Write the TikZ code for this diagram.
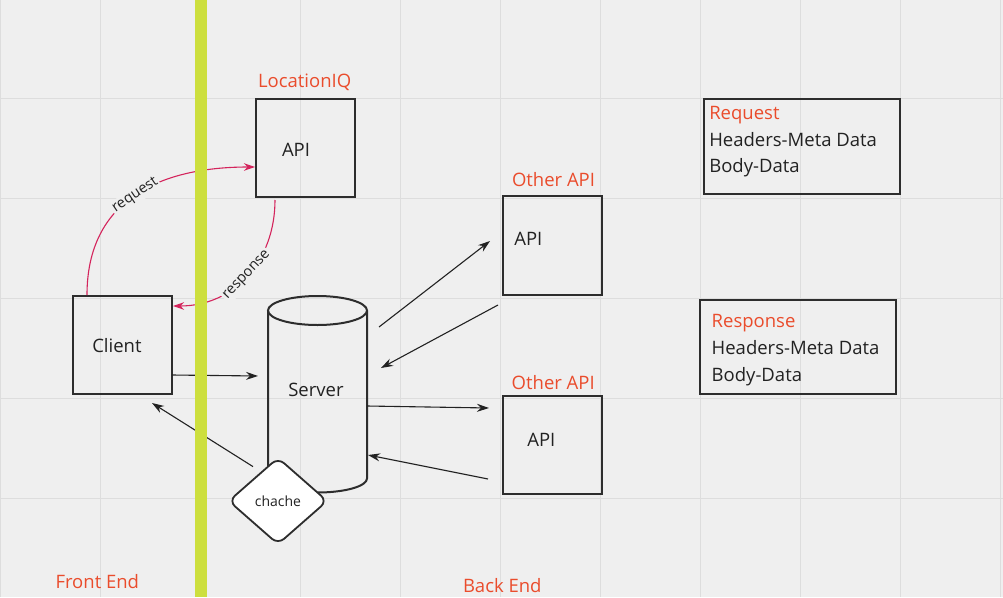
\documentclass[tikz,border=0pt]{standalone}
\usepackage{fontspec}
\setmainfont{Open Sans}
\usetikzlibrary{arrows.meta,shapes.geometric}
\definecolor{bg}{RGB}{239,239,239}
\definecolor{gridc}{RGB}{221,221,221}
\definecolor{lime}{RGB}{205,223,62}
\definecolor{redlab}{RGB}{234,76,44}
\definecolor{crim}{RGB}{212,36,92}
\definecolor{ink}{RGB}{34,34,34}
\definecolor{edge}{RGB}{45,45,45}
\tikzset{
  boxst/.style={draw=edge, line width=2pt, inner sep=0pt, outer sep=0pt},
  ghost/.style={inner sep=0pt, outer sep=0pt},
  txt/.style={inner sep=0pt, outer sep=0pt, anchor=base west, text=ink},
  redtxt/.style={inner sep=0pt, outer sep=0pt, anchor=base west, text=redlab},
  conn/.style={draw=ink, line width=1.1pt, -{Stealth[length=12pt,width=8pt]}},
  redconn/.style={draw=crim, line width=1.1pt, -{Stealth[length=11pt,width=7.5pt]}},
  curvelab/.style={sloped, fill=bg, inner sep=1.5pt, text=ink, font=\fontsize{14.5}{16}\selectfont}
}
\begin{document}
\begin{tikzpicture}[x=1pt, y=-1pt, font=\fontsize{18.5}{22}\selectfont]
\useasboundingbox (0,0) rectangle (1003,597);
\fill[bg] (0,0) rectangle (1003,597);
% grid
\foreach \gx in {0.7,100.5,200.5,300.5,400.5,500.5,600.5,700.5,800.5,900.5,1000.5}
  \draw[gridc, line width=1.2pt] (\gx,0) -- (\gx,597);
\foreach \gy in {98.5,198.5,298.5,398.5,498.5}
  \draw[gridc, line width=1.2pt] (0,\gy) -- (1003,\gy);

% boxes
\node[boxst, minimum width=99pt, minimum height=98pt] (client) at (122.5,345) {};
\node[boxst, minimum width=99pt, minimum height=98pt] (liq) at (305.5,148) {};
\node[boxst, minimum width=99pt, minimum height=99pt] (oapi1) at (552.5,245.5) {};
\node[boxst, minimum width=99pt, minimum height=98pt] (oapi2) at (552.5,445) {};
\node[boxst, minimum width=196pt, minimum height=95pt] (reqbox) at (802,146.5) {};
\node[boxst, minimum width=196pt, minimum height=94pt] (respbox) at (798,347) {};
\node[ghost, minimum width=99pt, minimum height=197pt] (server) at (317.5,394.5) {};

% cylinder
\draw[edge, line width=2pt] ([shift={(0,14.5)}]server.north west) -- ([shift={(0,-14.5)}]server.south west)
  arc[start angle=180, end angle=360, x radius=49.5pt, y radius=14pt]
  -- ([shift={(0,14.5)}]server.north east);
\draw[edge, line width=2pt] ([shift={(0,14.5)}]server.north) ellipse[x radius=49.5pt, y radius=14.5pt];

% texts
\node[redtxt] (liqlab) at (258,87.3) {LocationIQ};
\node[txt] (liqapi) at (282,156) {API};
\node[txt] (clienttxt) at (92.3,352.3) {Client};
\node[txt] (servertxt) at (288.3,396) {Server};
\node[redtxt] (o1lab) at (512,186.7) {Other API};
\node[txt] (o1api) at (514.3,245) {API};
\node[redtxt] (o2lab) at (511.7,389) {Other API};
\node[txt] (o2api) at (527.3,446.7) {API};
\node[redtxt] (reqt1) at (709.3,119.3) {Request};
\node[txt] (reqt2) at (709.3,146) {Headers-Meta Data};
\node[txt] (reqt3) at (709.3,172.7) {Body-Data};
\node[redtxt] (respt1) at (711.7,327.3) {Response};
\node[txt] (respt2) at (711.7,354) {Headers-Meta Data};
\node[txt] (respt3) at (711.7,381) {Body-Data};
\node[redtxt] (fe) at (55.5,588) {Front End};
\node[redtxt] (be) at (463,592) {Back End};

% curved request / response
\draw[redconn] ([shift={(14,-1)}]client.north west) .. controls +(0,-95) and +(-95,0) .. ([shift={(-1,19)}]liq.west)
  node[curvelab, pos=0.5] {request};
\draw[redconn] ([shift={(19,3)}]liq.south west) .. controls +(0,60) and +(62,0) .. ([shift={(1,10)}]client.north east)
  node[curvelab, pos=0.5] {response};

% black connectors
\draw[conn] ([shift={(0,30)}]client.east) -- ([shift={(-10,-18.5)}]server.west);
\draw[conn] ([shift={(12,-67.5)}]server.east) -- ([shift={(-13,-4.5)}]oapi1.west);
\draw[conn] ([shift={(-5,10)}]oapi1.south west) -- ([shift={(14,-26.5)}]server.east);
\draw[conn] ([shift={(0,11.5)}]server.east) -- ([shift={(-14,-37)}]oapi2.west);
\draw[conn] ([shift={(-15,34)}]oapi2.west) -- ([shift={(1,60.5)}]server.east);

% cache diamond
\node[diamond, draw=edge, fill=white, line width=1.8pt, minimum width=99pt, minimum height=87pt,
      rounded corners=8pt, inner sep=0pt, text=ink, font=\fontsize{14}{16}\selectfont] (cache) at (278,501) {chache};
\draw[conn] ([shift={(-25,10)}]cache.north) -- ([shift={(29.5,9)}]client.south);

% front/back end divider
\fill[lime] (195,0) rectangle (207,597);
\end{tikzpicture}
\end{document}
